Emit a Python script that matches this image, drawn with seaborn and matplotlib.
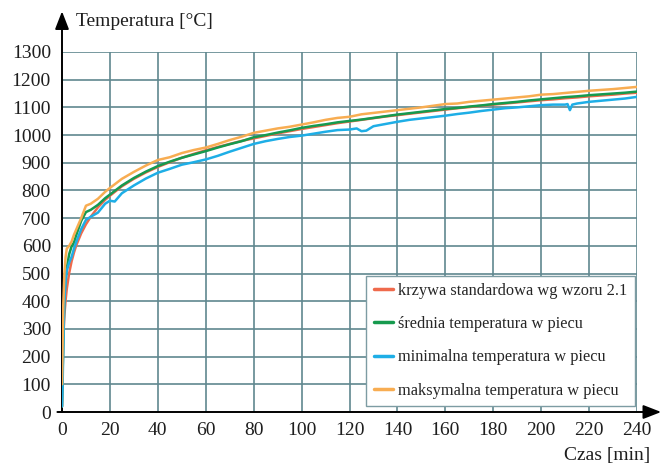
import matplotlib
matplotlib.use("Agg")
import matplotlib.pyplot as plt
import seaborn as sns
import pandas as pd

# ---------------- data ----------------
t_std = [0, 0.5, 1, 1.5, 2, 3, 4, 5, 6, 8, 10, 12, 15, 18, 20, 25, 30, 35, 40, 45, 50,
         55, 60, 65, 70, 75, 80, 85, 90, 95, 100, 105, 110, 115, 120, 125, 130, 135,
         140, 145, 150, 155, 160, 165, 170, 175, 180, 185, 190, 195, 200, 205, 210,
         215, 220, 225, 230, 235, 240]
T_std = [20, 261, 349, 404, 445, 502, 544, 576, 603, 645, 678, 705, 739, 766, 781, 815,
         842, 865, 885, 902, 918, 932, 945, 957, 968, 979, 988, 997, 1006, 1014, 1022,
         1029, 1036, 1043, 1049, 1055, 1061, 1067, 1072, 1077, 1082, 1087, 1092, 1097,
         1101, 1106, 1110, 1114, 1118, 1122, 1126, 1129, 1133, 1136, 1140, 1143, 1146,
         1150, 1153]

t_avg = t_std
T_avg = [20, 250, 420, 480, 520, 570, 598, 612, 640, 690, 722, 730, 748, 772, 785, 818,
         845, 868, 888, 904, 918, 930, 942, 955, 967, 978, 992, 1000, 1009, 1017, 1026,
         1033, 1039, 1046, 1051, 1056, 1062, 1068, 1074, 1079, 1084, 1089, 1094, 1098,
         1103, 1107, 1112, 1116, 1120, 1125, 1129, 1133, 1137, 1140, 1144, 1147, 1150,
         1153, 1157]

t_max = t_std
T_max = [100, 380, 500, 560, 590, 600, 615, 640, 660, 700, 745, 752, 770, 795, 809, 842,
         867, 890, 910, 920, 935, 946, 955, 968, 982, 994, 1008, 1016, 1024, 1030, 1038,
         1046, 1055, 1062, 1066, 1075, 1080, 1085, 1090, 1095, 1100, 1106, 1112, 1114,
         1120, 1124, 1128, 1132, 1136, 1140, 1146, 1148, 1152, 1156, 1160, 1163, 1166,
         1170, 1174]

t_min = [0, 0.3, 0.7, 1, 1.5, 2, 3, 4, 5, 6, 8, 10, 12, 15, 18, 20, 22, 25, 30, 35, 40,
         45, 50, 55, 60, 65, 70, 75, 80, 85, 90, 95, 100, 105, 110, 115, 120, 123, 125,
         127, 130, 135, 140, 145, 150, 155, 160, 165, 170, 175, 180, 185, 190, 195, 200,
         205, 210, 211, 212, 213, 215, 220, 225, 230, 235, 240]
T_min = [20, 120, 300, 400, 470, 510, 540, 560, 590, 615, 660, 694, 705, 720, 752, 763,
         760, 790, 818, 843, 864, 878, 893, 902, 912, 925, 940, 954, 968, 978, 986, 993,
         998, 1005, 1012, 1018, 1020, 1024, 1014, 1016, 1032, 1040, 1048, 1055, 1060,
         1065, 1070, 1076, 1081, 1087, 1092, 1097, 1100, 1104, 1108, 1110, 1110, 1112,
         1090, 1110, 1114, 1120, 1124, 1128, 1132, 1138]

labels = ["krzywa standardowa wg wzoru 2.1",
          "średnia temperatura w piecu",
          "minimalna temperatura w piecu",
          "maksymalna temperatura w piecu"]
colors = ["#ef6a4c", "#169a4e", "#1eaee6", "#f8ad52"]

x_ticks = list(range(0, 241, 20))
y_ticks = list(range(0, 1301, 100))

# ---------------- build table ----------------
frames = []
for lab, tt, vv in zip(labels, [t_std, t_avg, t_min, t_max], [T_std, T_avg, T_min, T_max]):
    frames.append(pd.DataFrame({"t": tt, "T": vv, "seria": lab}))
df = pd.concat(frames, ignore_index=True)

# ---------------- plot ----------------
sns.set_theme(style="white")
plt.rcParams["font.family"] = ["Liberation Serif", "DejaVu Serif"]

fig = plt.figure(figsize=(6.62, 4.65), dpi=100)
ax = fig.add_axes([62 / 662, 1 - 412 / 465, 575 / 662, 360 / 465])

grid_c = "#60878f"
for xv in x_ticks[1:]:
    ax.axvline(xv, color=grid_c, lw=1.2, zorder=0)
for yv in y_ticks[1:]:
    ax.axhline(yv, color=grid_c, lw=1.2, zorder=0)

sns.lineplot(data=df, x="t", y="T", hue="seria", hue_order=labels,
             palette=dict(zip(labels, colors)), linewidth=1.8, ax=ax,
             estimator=None, sort=False, zorder=3)

ax.set_xlim(0, 240)
ax.set_ylim(0, 1300)
ax.set_xticks(x_ticks)
ax.set_yticks(y_ticks)
ax.tick_params(axis="both", length=0, labelsize=14, colors="#1e1e1e")
ax.tick_params(axis="x", pad=7)
ax.tick_params(axis="y", pad=8)
ax.set_xlabel("")
ax.set_ylabel("")
for s in ax.spines.values():
    s.set_visible(False)

# axes with arrows
ax.annotate("", xy=(1.042, 0), xycoords="axes fraction", xytext=(-0.008, 0),
            arrowprops=dict(arrowstyle="-|>,head_length=0.9,head_width=0.35",
                            color="black", lw=1.4, shrinkA=0, shrinkB=0), zorder=5)
ax.annotate("", xy=(0, 1.113), xycoords="axes fraction", xytext=(0, 0),
            arrowprops=dict(arrowstyle="-|>,head_length=0.9,head_width=0.35",
                            color="black", lw=1.4, shrinkA=0, shrinkB=0), zorder=1)

fig.text(76 / 662, 1 - 22 / 465, "Temperatura [°C]", fontsize=14, ha="left",
         va="center", color="#1e1e1e")
fig.text(650 / 662, 1 - 455 / 465, "Czas [min]", fontsize=14, ha="right",
         va="center", color="#1e1e1e")

leg = ax.legend(loc="lower right", bbox_to_anchor=(0.9965, 0.017), fontsize=11.8,
                frameon=True, fancybox=False, framealpha=1, edgecolor="#7d9ca3",
                handlelength=1.15, handletextpad=0.35, labelspacing=1.05,
                borderpad=0.45, borderaxespad=0)
leg.get_frame().set_linewidth(1.0)
for line in leg.get_lines():
    line.set_linewidth(2.5)
leg.set_zorder(6)

fig.savefig("out.png", dpi=100)
